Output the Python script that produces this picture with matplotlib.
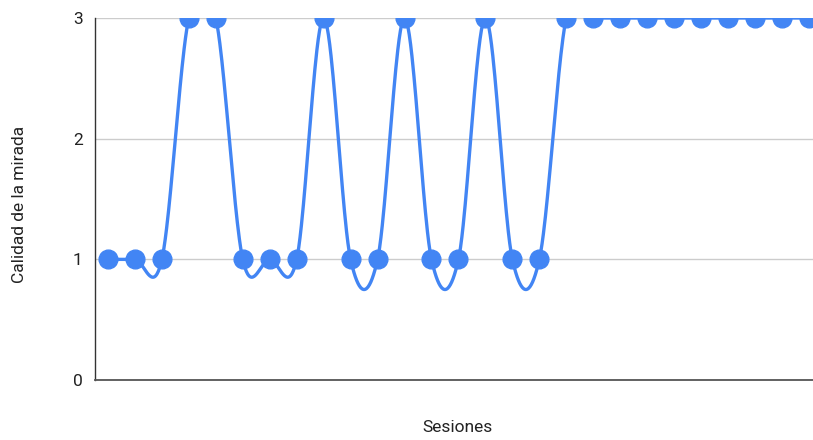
import numpy as np
import matplotlib
matplotlib.use("Agg")
import matplotlib.pyplot as plt

plt.rcParams['font.family'] = ['Roboto', 'DejaVu Sans']

# Gaze quality per session
sessions = list(range(1, 28))
quality = [1, 1, 1, 3, 3, 1, 1, 1, 3, 1, 1, 3, 1, 1, 3, 1, 1, 3,
           3, 3, 3, 3, 3, 3, 3, 3, 3]
y_ticks = [0, 1, 2, 3]

LINE = '#4285F4'


def catmull_rom(x, y, steps=40):
    """Uniform Catmull-Rom spline through the points (function-style curve)."""
    x = np.asarray(x, float)
    y = np.asarray(y, float)
    n = len(y)
    xs, ys = [], []
    for i in range(n - 1):
        y0 = y[i - 1] if i > 0 else y[i]
        y3 = y[i + 2] if i + 2 < n else y[i + 1]
        m1 = (y[i + 1] - y0) / 2.0
        m2 = (y3 - y[i]) / 2.0
        t = np.linspace(0, 1, steps, endpoint=(i == n - 2))
        h00 = 2 * t**3 - 3 * t**2 + 1
        h10 = t**3 - 2 * t**2 + t
        h01 = -2 * t**3 + 3 * t**2
        h11 = t**3 - t**2
        xs.append(x[i] + t * (x[i + 1] - x[i]))
        ys.append(h00 * y[i] + h10 * m1 + h01 * y[i + 1] + h11 * m2)
    return np.concatenate(xs), np.concatenate(ys)


fig = plt.figure(figsize=(8.13, 4.40), dpi=100)
ax = fig.add_axes([95 / 813, 60 / 440, 718 / 813, 362 / 440])

xs, ys = catmull_rom(sessions, quality)
ax.plot(xs, ys, color=LINE, lw=2.4, solid_capstyle='round', zorder=3)
ax.plot(sessions, quality, 'o', color=LINE, ms=13.5, mec=LINE, zorder=4)

ax.set_xlim(0.52, 27.15)
ax.set_ylim(0, 3)
ax.set_yticks(y_ticks)
ax.set_yticklabels([str(v) for v in y_ticks], fontsize=12.5, color='#222222')
ax.set_xticks([])
ax.tick_params(axis='y', length=0, pad=9)
ax.grid(axis='y', color='#cccccc', lw=1, zorder=0)

for side in ['top', 'right']:
    ax.spines[side].set_visible(False)
ax.spines['left'].set_color('#333333')
ax.spines['left'].set_linewidth(1)
ax.spines['bottom'].set_color('#555555')
ax.spines['bottom'].set_linewidth(1.3)

fig.text(457 / 813, 1 - 427 / 440, 'Sesiones', ha='center', va='center',
         fontsize=12.5, color='#222222')
fig.text(19 / 813, 1 - 204 / 440, 'Calidad de la mirada', ha='center',
         va='center', rotation=90, fontsize=12.5, color='#222222')

fig.savefig('out.png', dpi=100)
